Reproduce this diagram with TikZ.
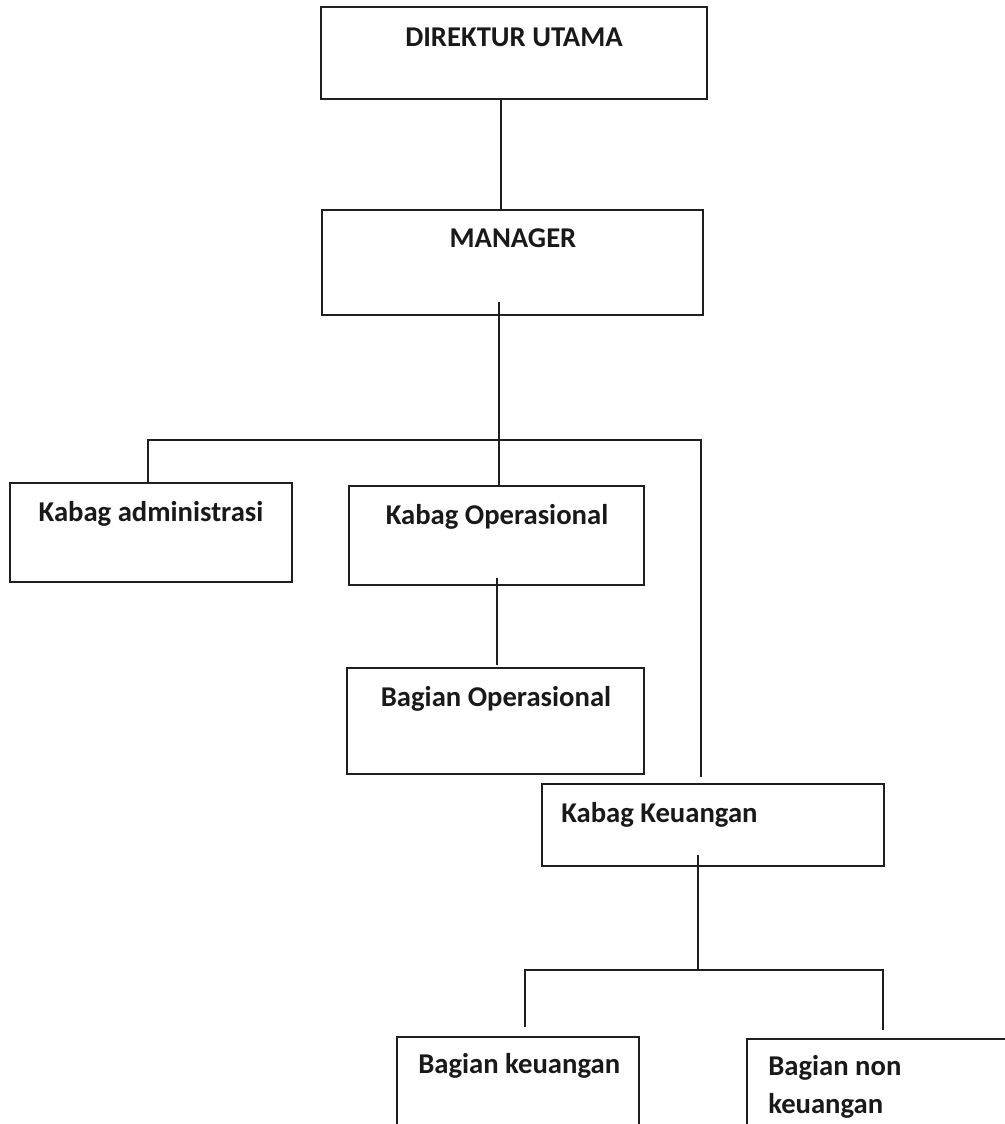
\documentclass[tikz,border=0pt]{standalone}
\usepackage{fontspec}
\setmainfont{Carlito}
\usetikzlibrary{calc}
\begin{document}
\begin{tikzpicture}[x=0.75pt,y=-0.75pt,
  box/.style={draw=black!88, line width=1.8pt, rectangle, inner sep=0pt, outer sep=0pt, anchor=north west},
  conn/.style={draw=black!88, line width=1.4pt},
  lbl/.style={font=\fontsize{21.5}{28}\selectfont\bfseries, inner sep=0pt, text=black!90}]
\useasboundingbox (0,0) rectangle (1005,1124);
\clip (0,0) rectangle (1005,1124);
% boxes
\node[box, minimum width=386*0.75pt, minimum height=92*0.75pt]  (dir) at (321,7) {};
\node[box, minimum width=381*0.75pt, minimum height=105*0.75pt] (mgr) at (322,210) {};
\node[box, minimum width=282*0.75pt, minimum height=99*0.75pt]  (adm) at (10,483) {};
\node[box, minimum width=295*0.75pt, minimum height=99*0.75pt]  (kop) at (349,486) {};
\node[box, minimum width=297*0.75pt, minimum height=106*0.75pt] (bop) at (347,668) {};
\node[box, minimum width=342*0.75pt, minimum height=82*0.75pt]  (keu) at (542,784) {};
\node[box, minimum width=242*0.75pt, minimum height=130*0.75pt] (bk)  at (397,1037) {};
\node[box, minimum width=300*0.75pt, minimum height=130*0.75pt] (bnk) at (747,1039) {};
% labels
\node[lbl, anchor=base] (tdir) at (514,47) {DIREKTUR UTAMA};
\node[lbl, anchor=base] (tmgr) at (513,247) {MANAGER};
\node[lbl, anchor=base] (tadm) at (151,521) {Kabag administrasi};
\node[lbl, anchor=base] (tkop) at (497,524) {Kabag Operasional};
\node[lbl, anchor=base] (tbop) at (496,706) {Bagian Operasional};
\node[lbl, anchor=base west] (tkeu) at (561,822) {Kabag Keuangan};
\node[lbl, anchor=base west] (tbk) at (418,1073) {Bagian keuangan};
\node[lbl, anchor=base west] (tbnk1) at (768,1075) {Bagian non};
\node[lbl, anchor=base west] (tbnk2) at (768,1113) {keuangan};
% junction coordinates
\coordinate (j1) at (499,440);
\coordinate (jl) at (148,440);
\coordinate (jr) at (701,440);
\coordinate (j2) at (698,970);
\coordinate (j2l) at (525,970);
\coordinate (j2r) at (883,970);
% connectors
\draw[conn] (501,0 |- dir.south) -- (501,0 |- mgr.north);
\draw[conn] ($(mgr.south -| j1)+(0,-13)$) -- (j1);
\draw[conn] (adm.north -| jl) -- (jl) -- (jr) -- ($(keu.north -| jr)+(0,-7)$);
\draw[conn] (j1) -- (kop.north -| j1);
\draw[conn] ($(kop.south -| 497,0)+(0,-7)$) -- ($(bop.north -| 497,0)+(0,-3)$);
\draw[conn] ($(keu.south -| j2)+(0,-11)$) -- (j2);
\draw[conn] ($(bk.north -| j2l)+(0,-10)$) -- (j2l) -- (j2r) -- ($(bnk.north -| j2r)+(0,-9)$);
\end{tikzpicture}
\end{document}
